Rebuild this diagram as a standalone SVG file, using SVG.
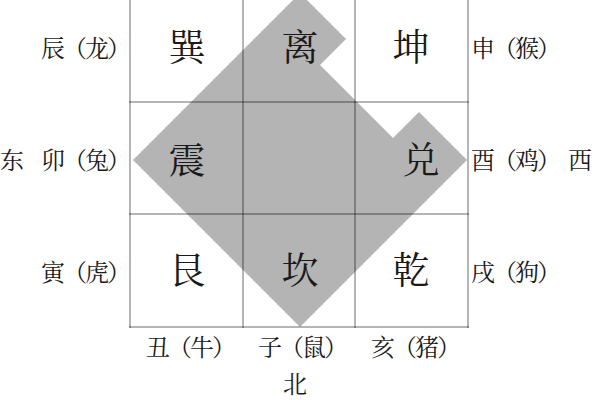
<svg xmlns="http://www.w3.org/2000/svg" width="600" height="400" viewBox="0 0 600 400">
<style>
.bg{fill:#ffffff}
.shape{fill:#b4b4b4}
.grid line{stroke:#000;stroke-opacity:0.29;stroke-width:2}
text{font-family:"Noto Serif CJK SC","Liberation Serif","Noto Sans CJK SC",serif;fill:#1a1a1a}
.gua{font-size:37px;text-anchor:middle}
.lbl{font-size:24px;letter-spacing:-2px}
.l{text-anchor:end}
.r{text-anchor:start}
.m{text-anchor:middle}
</style>
<rect class="bg" x="0" y="0" width="600" height="400"/>
<g id="shape">
<polygon class="shape" points="300,-7 346,39 320,65 393,138 419,112 467,160 300,327 133,160"/>
</g>
<g id="connectors" class="grid">
<line x1="130" y1="0" x2="130" y2="328"/>
<line x1="243" y1="0" x2="243" y2="328"/>
<line x1="355" y1="0" x2="355" y2="328"/>
<line x1="468" y1="0" x2="468" y2="328"/>
<line x1="129" y1="102" x2="469" y2="102"/>
<line x1="129" y1="214" x2="469" y2="214"/>
<line x1="129" y1="327" x2="469" y2="327"/>
</g>
<g id="xun"><text class="gua" x="187" y="61">巽</text></g>
<g id="li"><text class="gua" x="300" y="61">离</text></g>
<g id="kun"><text class="gua" x="411" y="61">坤</text></g>
<g id="zhen"><text class="gua" x="187" y="174">震</text></g>
<g id="dui"><text class="gua" x="421" y="174">兑</text></g>
<g id="gen"><text class="gua" x="187" y="284">艮</text></g>
<g id="kan"><text class="gua" x="300" y="284">坎</text></g>
<g id="qian"><text class="gua" x="411" y="284">乾</text></g>
<g id="chen"><text class="lbl l" x="129" y="57">辰（龙）</text></g>
<g id="mao"><text class="lbl l" x="129" y="169">卯（兔）</text></g>
<g id="dong"><text class="lbl r" x="0" y="169">东</text></g>
<g id="yin"><text class="lbl l" x="129" y="281">寅（虎）</text></g>
<g id="shen"><text class="lbl r" x="471" y="57">申（猴）</text></g>
<g id="you"><text class="lbl r" x="471" y="169">酉（鸡）</text></g>
<g id="xi"><text class="lbl r" x="568" y="169">西</text></g>
<g id="xu"><text class="lbl r" x="471" y="281">戌（狗）</text></g>
<g id="chou"><text class="lbl m" x="190" y="356">丑（牛）</text></g>
<g id="zi"><text class="lbl m" x="302" y="356">子（鼠）</text></g>
<g id="hai"><text class="lbl m" x="415" y="356">亥（猪）</text></g>
<g id="bei"><text class="lbl m" x="294" y="393">北</text></g>
</svg>
